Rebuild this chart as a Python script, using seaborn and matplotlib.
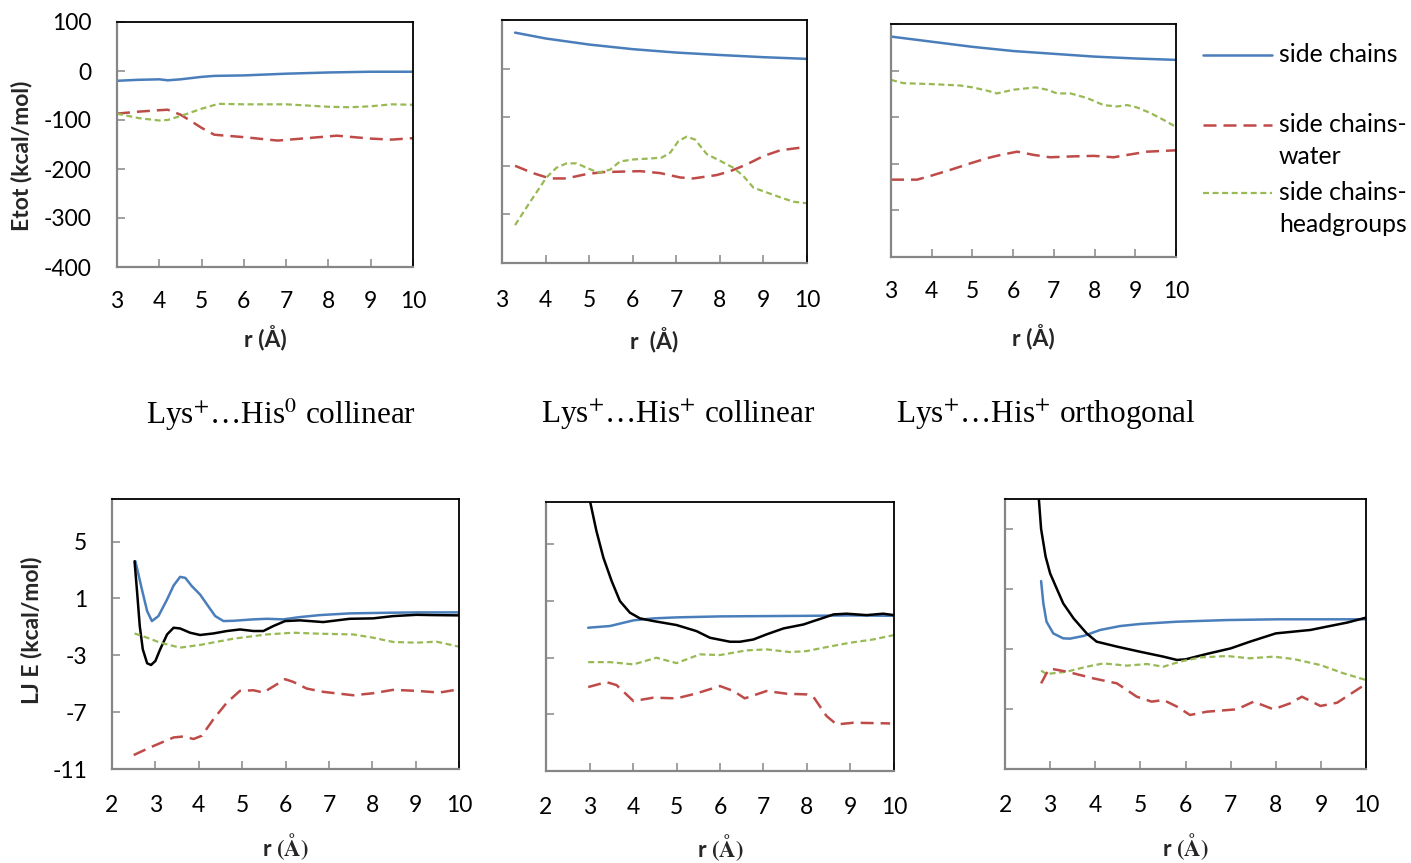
import matplotlib
matplotlib.use("Agg")
import matplotlib.pyplot as plt
from matplotlib.lines import Line2D
import seaborn as sns

# ---------------- data ----------------
# Total energy (kcal/mol) vs separation r (Å)
# Lys+...His0 collinear
etot_a_sc_r = [3.0, 3.5, 4.0, 4.2, 4.5, 5.0, 5.3, 6.0, 7.0, 8.0, 9.0, 10.0]
etot_a_sc = [-20, -18, -17, -19, -17, -12, -10, -9, -5.5, -3, -1.5, -1.5]
etot_a_w_r = [3.0, 3.5, 4.0, 4.2, 4.5, 4.8, 5.0, 5.3, 6.0, 6.8, 7.5, 8.2, 9.0, 9.5, 10.0]
etot_a_w = [-87, -83, -80, -79, -89, -105, -116, -130, -135, -142, -137, -132, -138, -140, -137]
etot_a_hg_r = [3.0, 3.5, 4.0, 4.2, 4.6, 5.0, 5.4, 6.0, 7.0, 8.0, 8.5, 9.0, 9.5, 10.0]
etot_a_hg = [-87, -96, -101, -100, -89, -77, -67, -68, -68, -73, -74, -72, -68, -69]

# Lys+...His+ collinear
etot_b_sc_r = [3.3, 4.0, 5.0, 6.0, 7.0, 8.0, 9.0, 10.0]
etot_b_sc = [74, 62, 49.5, 40, 33, 28, 23.5, 20]
etot_b_w_r = [3.3, 3.71, 4.1, 4.48, 4.94, 5.32, 6.17, 6.63, 7.09, 7.39, 7.93, 8.24,
              8.62, 9.0, 9.39, 10.0]
etot_b_w = [-200, -215, -226, -226, -217, -213, -211, -215, -224, -226, -219, -211,
            -197, -180, -168, -161]
etot_b_hg_r = [3.3, 3.64, 4.02, 4.25, 4.48, 4.71, 4.94, 5.21, 5.48, 5.71, 6.01, 6.4,
               6.67, 6.86, 7.05, 7.24, 7.43, 7.7, 8.01, 8.31, 8.54, 8.77, 9.08, 9.39,
               9.69, 10.0]
etot_b_hg = [-322, -275, -224, -204, -195, -195, -204, -214, -208, -191, -187, -185,
             -183, -173, -149, -140, -146, -176, -190, -204, -221, -245, -255, -265,
             -274, -277]

# Lys+...His+ orthogonal
etot_c_sc_r = [3.0, 4.0, 5.0, 6.0, 7.0, 8.0, 9.0, 10.0]
etot_c_sc = [73, 62, 51, 42, 36, 30, 26, 23]
etot_c_w_r = [3.0, 3.64, 3.97, 4.46, 4.95, 5.36, 5.69, 6.1, 6.51, 6.91, 7.49, 7.98,
              8.47, 8.8, 9.29, 10.0]
etot_c_w = [-234, -234, -226, -213, -199, -188, -181, -174, -181, -186, -184, -183,
            -186, -181, -174, -171]
etot_c_hg_r = [3.0, 3.31, 4.0, 4.7, 5.0, 5.36, 5.6, 6.01, 6.55, 6.83, 7.08, 7.41,
               7.82, 8.22, 8.55, 8.8, 9.04, 9.37, 9.7, 10.0]
etot_c_hg = [-20, -27, -29, -32, -36, -43, -49, -41, -36, -41, -49, -49,
             -59, -74, -77, -74, -79, -91, -106, -121]

# Lennard-Jones energy (kcal/mol) vs separation r (Å)
# Lys+...His0 collinear
lj_a_sc_r = [2.54, 2.69, 2.81, 2.92, 3.07, 3.27, 3.42, 3.57, 3.69, 3.84, 4.03, 4.19,
             4.38, 4.57, 4.8, 5.26, 5.57, 5.95, 6.33, 6.79, 7.48, 8.25, 9.02, 10.0]
lj_a_sc = [3.62, 1.63, 0.11, -0.59, -0.24, 0.93, 1.91, 2.52, 2.45, 1.87, 1.28, 0.58,
           -0.24, -0.59, -0.57, -0.47, -0.43, -0.47, -0.31, -0.17, -0.05, -0.01, 0.02, 0.02]
lj_a_tot_r = [2.52, 2.58, 2.64, 2.71, 2.81, 2.9, 3.0, 3.11, 3.27, 3.42, 3.57, 3.8,
              4.03, 4.34, 4.65, 4.95, 5.26, 5.49, 5.72, 5.99, 6.33, 6.87, 7.48, 8.02,
              8.48, 9.02, 9.4, 10.0]
lj_a_tot = [3.62, 1.4, -0.94, -2.58, -3.56, -3.68, -3.4, -2.58, -1.53, -1.06, -1.11,
            -1.41, -1.57, -1.46, -1.29, -1.18, -1.29, -1.29, -0.94, -0.59, -0.54, -0.66,
            -0.43, -0.4, -0.24, -0.15, -0.17, -0.19]
lj_a_w_r = [2.5, 2.88, 3.42, 3.65, 3.88, 4.07, 4.34, 4.65, 4.95, 5.26, 5.49, 5.8,
            5.99, 6.18, 6.49, 6.87, 7.56, 8.02, 8.48, 9.02, 9.55, 10.0]
lj_a_w = [-10.02, -9.48, -8.78, -8.71, -8.89, -8.66, -7.49, -6.32, -5.5, -5.46, -5.62,
          -5.04, -4.68, -4.87, -5.34, -5.57, -5.81, -5.67, -5.43, -5.5, -5.62, -5.39]
lj_a_hg_r = [2.52, 2.81, 3.11, 3.57, 4.03, 4.8, 5.57, 6.18, 6.79, 7.56, 8.02, 8.48,
             9.02, 9.48, 10.0]
lj_a_hg = [-1.46, -1.76, -2.11, -2.46, -2.27, -1.83, -1.53, -1.41, -1.48, -1.53, -1.76,
           -2.06, -2.11, -2.04, -2.39]

# Lys+...His+ collinear
lj_b_sc_r = [2.97, 3.47, 4.01, 4.47, 5.0, 6.0, 7.0, 7.99, 8.99, 10.0]
lj_b_sc = [-0.88, -0.76, -0.36, -0.22, -0.15, -0.08, -0.06, -0.04, -0.01, -0.04]
lj_b_tot_r = [2.98, 3.02, 3.16, 3.32, 3.51, 3.7, 3.93, 4.16, 4.47, 5.0, 5.46, 5.77,
              6.23, 6.46, 6.77, 7.07, 7.46, 7.92, 8.15, 8.38, 8.61, 8.91, 9.37, 9.75, 10.0]
lj_b_tot = [8.6, 7.94, 5.94, 4.06, 2.41, 1.0, 0.18, -0.22, -0.41, -0.69, -1.12, -1.59,
            -1.87, -1.87, -1.71, -1.35, -0.93, -0.65, -0.41, -0.18, 0.06, 0.11, 0.01,
            0.11, 0.01]
lj_b_w_r = [2.97, 3.39, 3.62, 4.01, 4.47, 5.0, 5.46, 6.0, 6.31, 6.57, 7.07, 7.53,
            7.99, 8.15, 8.45, 8.68, 9.07, 9.91]
lj_b_w = [-5.07, -4.72, -4.93, -6.06, -5.82, -5.87, -5.52, -5.0, -5.35, -5.87, -5.35,
          -5.54, -5.59, -5.78, -7.12, -7.71, -7.59, -7.64]
lj_b_hg_r = [2.97, 3.47, 4.01, 4.54, 5.0, 5.54, 6.0, 6.61, 7.07, 7.61, 7.99, 8.45,
             8.99, 9.52, 10.0]
lj_b_hg = [-3.31, -3.31, -3.47, -3.0, -3.38, -2.76, -2.81, -2.48, -2.41, -2.6, -2.53,
           -2.25, -1.94, -1.71, -1.4]

# Lys+...His+ orthogonal
lj_c_sc_r = [2.8, 2.85, 2.92, 3.07, 3.29, 3.44, 3.74, 4.11, 4.55, 5.0, 5.81, 6.92,
             8.03, 9.13, 10.0]
lj_c_sc = [1.53, 0.04, -1.18, -1.96, -2.29, -2.31, -2.13, -1.73, -1.47, -1.33, -1.18,
           -1.07, -1.02, -1.02, -1.02]
lj_c_tot_r = [2.73, 2.75, 2.8, 2.9, 3.0, 3.15, 3.29, 3.52, 3.81, 4.03, 4.48, 4.99,
              5.51, 5.81, 6.0, 6.47, 7.0, 7.43, 8.0, 8.4, 8.77, 9.13, 9.58, 10.0]
lj_c_tot = [7.8, 7.0, 5.0, 3.16, 2.04, 1.0, 0.04, -0.96, -1.96, -2.51, -2.84, -3.18,
            -3.51, -3.73, -3.69, -3.33, -2.96, -2.51, -1.96, -1.84, -1.73, -1.51, -1.24,
            -0.91]
lj_c_w_r = [2.8, 2.92, 3.01, 3.37, 3.96, 4.48, 4.92, 5.25, 5.51, 5.81, 6.1, 6.47,
            7.14, 7.51, 7.95, 8.32, 8.58, 8.99, 9.36, 10.0]
lj_c_w = [-5.29, -4.62, -4.31, -4.51, -4.96, -5.29, -6.18, -6.51, -6.4, -6.84, -7.4,
          -7.18, -7.02, -6.51, -7.02, -6.62, -6.18, -6.8, -6.58, -5.33]
lj_c_hg_r = [2.8, 2.92, 3.37, 3.81, 4.18, 4.7, 5.14, 5.51, 5.88, 6.33, 6.92, 7.43,
             7.95, 8.4, 8.99, 9.5, 10.0]
lj_c_hg = [-4.44, -4.67, -4.51, -4.18, -3.96, -4.11, -4.0, -4.18, -3.84, -3.56, -3.47,
           -3.62, -3.51, -3.67, -4.07, -4.62, -5.07]

etot_ticks = [-400, -300, -200, -100, 0, 100]
lj_ticks = [-11, -7, -3, 1, 5]
legend_labels = ["side chains", "side chains-\nwater", "side chains-\nheadgroups"]
panel_titles = [r"Lys$^{+}$…His$^{0}$ collinear",
                r"Lys$^{+}$…His$^{+}$ collinear",
                r"Lys$^{+}$…His$^{+}$ orthogonal"]

# ---------------- style ----------------
sns.set_theme(style="white")
plt.rcParams["font.family"] = ["Lato", "DejaVu Sans"]
plt.rcParams["mathtext.fontset"] = "stix"
plt.rcParams["axes.unicode_minus"] = False

BLUE = "#4A7EBB"
RED = "#BE4B48"
GREEN = "#98B954"
BLACK = "#000000"
GRAY = "#868686"

STYLES = {
    "sc": dict(color=BLUE, linewidth=1.8, linestyle="-"),
    "w": dict(color=RED, linewidth=1.8, linestyle=(0, (5.2, 2.8))),
    "hg": dict(color=GREEN, linewidth=1.6, linestyle=(0, (2.7, 1.6))),
    "tot": dict(color=BLACK, linewidth=1.8, linestyle="-"),
}

W, H = 1411, 863
fig = plt.figure(figsize=(W / 100, H / 100), dpi=100)
fig.patch.set_facecolor("white")


def px_axes(left, right, top, bottom):
    return fig.add_axes([left / W, 1 - bottom / H, (right - left) / W, (bottom - top) / H])


def draw(ax, x, y, key):
    sns.lineplot(x=x, y=y, ax=ax, estimator=None, sort=False, errorbar=None, **STYLES[key])


def style_axes(ax, xlim, ylim, yticks, show_ylabels, xpad, xlabel, xlab_off):
    ax.set_xlim(*xlim)
    ax.set_ylim(*ylim)
    ax.set_xticks(range(int(xlim[0]), int(xlim[1]) + 1))
    ax.set_yticks(yticks)
    ax.set_facecolor("white")
    ax.grid(False)
    for s in ("left", "bottom"):
        ax.spines[s].set_color(GRAY)
        ax.spines[s].set_linewidth(1.6)
    for s in ("top", "right"):
        ax.spines[s].set_color(BLACK)
        ax.spines[s].set_linewidth(1.3)
    ax.tick_params(axis="both", direction="in", length=6, width=1.1, color=GRAY,
                   labelsize=16.5, labelcolor="black")
    ax.tick_params(axis="x", pad=xpad, bottom=True)
    ax.tick_params(axis="y", pad=18, left=True, labelleft=show_ylabels)
    ax.set_xlabel(xlabel, fontsize=16.5, fontweight="bold", va="center")
    h = ax.get_position().height * H
    ax.xaxis.set_label_coords(0.5, -xlab_off / h)
    ax.set_ylabel("")
    return ax


# ---------------- top row: total energy ----------------
ax1 = px_axes(117, 413, 22, 267)
draw(ax1, etot_a_sc_r, etot_a_sc, "sc")
draw(ax1, etot_a_w_r, etot_a_w, "w")
draw(ax1, etot_a_hg_r, etot_a_hg, "hg")
style_axes(ax1, (3, 10), (-400, 100), etot_ticks, True, 17, "r (Å)", 71)
ax1.set_ylabel("Etot (kcal/mol)", fontsize=16.5, fontweight="bold", va="center")
ax1.yaxis.set_label_coords((22 - 117) / 296, (267 - 156) / 245)

ax2 = px_axes(502, 807, 20, 263)
draw(ax2, etot_b_sc_r, etot_b_sc, "sc")
draw(ax2, etot_b_w_r, etot_b_w, "w")
draw(ax2, etot_b_hg_r, etot_b_hg, "hg")
style_axes(ax2, (3, 10), (-400, 100), etot_ticks, False, 19.5, "r  (Å)", 77)

ax3 = px_axes(891, 1176, 24, 257)
draw(ax3, etot_c_sc_r, etot_c_sc, "sc")
draw(ax3, etot_c_w_r, etot_c_w, "w")
draw(ax3, etot_c_hg_r, etot_c_hg, "hg")
style_axes(ax3, (3, 10), (-400, 100), etot_ticks, False, 17.5, "r (Å)", 80)

# legend beside the top-right panel, key aligned with the first text line
leg_rows = [55, 125, 193]
for lab, key, yrow in zip(legend_labels, ["sc", "w", "hg"], leg_rows):
    st = STYLES[key]
    fig.add_artist(Line2D([1203 / W, 1272 / W], [1 - yrow / H] * 2,
                          transform=fig.transFigure, color=st["color"],
                          linewidth=st["linewidth"], linestyle=st["linestyle"]))
    for i, part in enumerate(lab.split("\n")):
        fig.text(1279 / W, 1 - (yrow + 32 * i) / H, part, fontsize=17.8,
                 ha="left", va="center", color="black")

# panel titles between the rows
for title, xc in zip(panel_titles, [281, 678, 1046]):
    fig.text(xc / W, 1 - 415 / H, title, fontsize=22.5, family="Liberation Serif",
             ha="center", va="center", color="black")

# ---------------- bottom row: Lennard-Jones energy ----------------
lj_xlabel = r"r $\mathbf{(Å)}$"

ax4 = px_axes(112, 459, 499, 769)
draw(ax4, lj_a_sc_r, lj_a_sc, "sc")
draw(ax4, lj_a_tot_r, lj_a_tot, "tot")
draw(ax4, lj_a_hg_r, lj_a_hg, "hg")
draw(ax4, lj_a_w_r, lj_a_w, "w")
style_axes(ax4, (2, 10), (-11, 8), lj_ticks, True, 19, lj_xlabel, 78)
ax4.set_ylabel("LJ E (kcal/mol)", fontsize=16.5, fontweight="bold", va="center")
ax4.yaxis.set_label_coords((32 - 112) / 347, (769 - 630) / 270)

ax5 = px_axes(546, 894, 502, 771)
draw(ax5, lj_b_sc_r, lj_b_sc, "sc")
draw(ax5, lj_b_tot_r, lj_b_tot, "tot")
draw(ax5, lj_b_hg_r, lj_b_hg, "hg")
draw(ax5, lj_b_w_r, lj_b_w, "w")
style_axes(ax5, (2, 10), (-11, 8), lj_ticks, False, 19, lj_xlabel, 77)

ax6 = px_axes(1005, 1366, 499, 769)
draw(ax6, lj_c_sc_r, lj_c_sc, "sc")
draw(ax6, lj_c_tot_r, lj_c_tot, "tot")
draw(ax6, lj_c_hg_r, lj_c_hg, "hg")
draw(ax6, lj_c_w_r, lj_c_w, "w")
style_axes(ax6, (2, 10), (-11, 7), lj_ticks, False, 19, lj_xlabel, 78)

fig.savefig("out.png", dpi=100, facecolor="white")
